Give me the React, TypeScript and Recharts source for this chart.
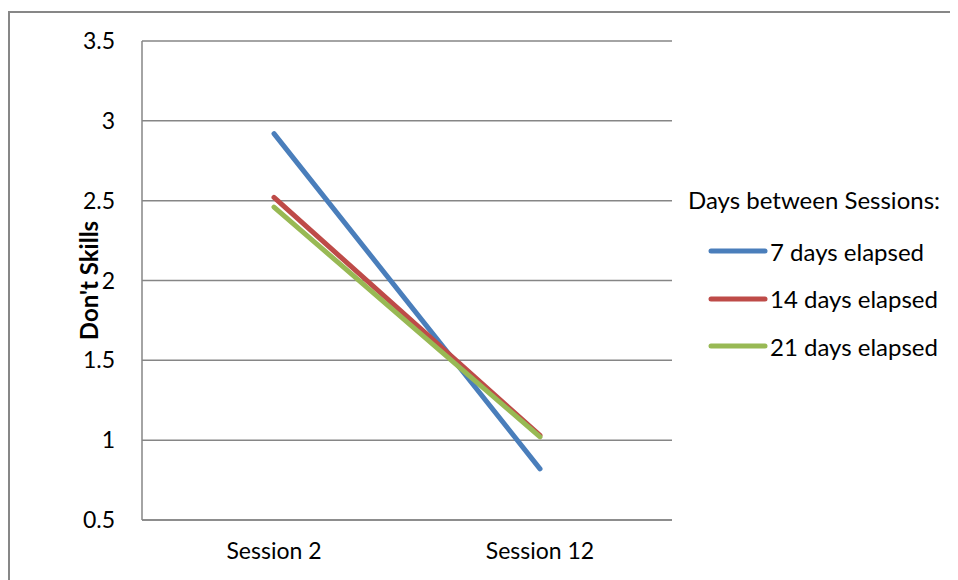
import React, { useEffect } from 'react';
import { LineChart, Line, XAxis, YAxis, CartesianGrid } from 'recharts';

const sessions = ['Session 2', 'Session 12'];
const sevenDays = [2.92, 0.82];
const fourteenDays = [2.52, 1.03];
const twentyOneDays = [2.46, 1.02];
const yTicks = [0.5, 1, 1.5, 2, 2.5, 3, 3.5];

const SERIES = [
  { key: 'd7', name: '7 days elapsed', color: '#4a7ebb' },
  { key: 'd14', name: '14 days elapsed', color: '#be4b48' },
  { key: 'd21', name: '21 days elapsed', color: '#98b954' },
];

const data = sessions.map((s, i) => ({
  session: s,
  d7: sevenDays[i],
  d14: fourteenDays[i],
  d21: twentyOneDays[i],
}));

const FONT = 'Lato, "Open Sans", sans-serif';

// legend drawn as plain html so it does not eat into the plot area
const LegendBox = () => (
  <div style={{ position: 'absolute', left: 680, top: 178, fontFamily: FONT, fontSize: 24, color: '#000', whiteSpace: 'nowrap' }}>
    <div style={{ height: 28, lineHeight: '28px' }}>Days between Sessions:</div>
    {SERIES.map((s, i) => (
      <div key={s.key} style={{ display: 'flex', alignItems: 'center', marginTop: i === 0 ? 23 : 19.5, height: 28 }}>
        <svg width={62} height={10} style={{ marginLeft: 20 }}>
          <line x1={3} y1={5} x2={57} y2={5} stroke={s.color} strokeWidth={5} strokeLinecap="round" />
        </svg>
        <span>{s.name}</span>
      </div>
    ))}
  </div>
);

const YLabel = (props: any) => {
  const { viewBox } = props;
  const cy = viewBox.y + viewBox.height / 2;
  return (
    <text x={80} y={cy} transform={`rotate(-90, 80, ${cy})`} textAnchor="middle" dominantBaseline="central"
      fontFamily={FONT} fontSize={24} fontWeight="bold" fill="#000">
      Don't Skills
    </text>
  );
};

export default function App() {
  useEffect(() => {
    document.documentElement.style.overflow = 'hidden';
    document.body.style.overflow = 'hidden';
  }, []);
  return (
    <div style={{ position: 'relative', width: 960, height: 572, overflow: 'hidden' }}>
      <div style={{ position: 'absolute', left: 0, top: 3, width: 1000, height: 700, borderLeft: '2px solid #878787', borderTop: '2px solid #878787' }} />
      <div style={{ position: 'absolute', left: 0, top: 0 }}>
        <LineChart width={940} height={564} data={data} margin={{ top: 33, right: 276, bottom: 0, left: 0 }}>
          <CartesianGrid vertical={false} stroke="#868686" strokeWidth={1.5} />
          <XAxis dataKey="session" padding={{ left: 132, right: 132 }} axisLine={{ stroke: '#868686', strokeWidth: 1.5 }}
            tickLine={false} height={52} tickMargin={17}
            tick={{ fontFamily: FONT, fontSize: 23, fill: '#000' }} />
          <YAxis type="number" domain={[0.5, 3.5]} ticks={yTicks} width={134} interval={0}
            axisLine={{ stroke: '#868686', strokeWidth: 1.5 }} tickLine={false} tickMargin={21}
            tick={{ fontFamily: FONT, fontSize: 23, fill: '#000' }} label={<YLabel />} />
          {SERIES.map((s) => (
            <Line key={s.key} type="linear" dataKey={s.key} name={s.name} stroke={s.color} strokeWidth={5}
              strokeLinecap="round" dot={false} activeDot={false} isAnimationActive={false} />
          ))}
        </LineChart>
      </div>
      <LegendBox />
    </div>
  );
}
